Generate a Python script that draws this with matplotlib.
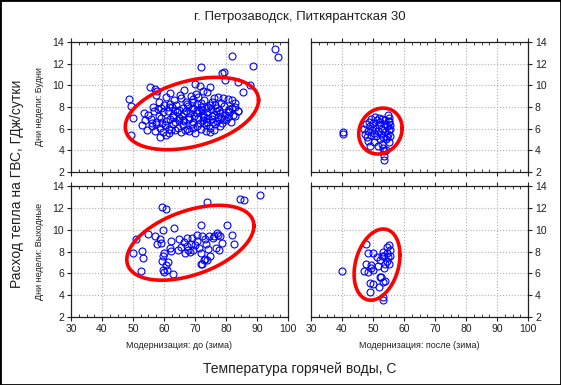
import numpy as np
import matplotlib
matplotlib.use("Agg")
import matplotlib.pyplot as plt
from matplotlib.patches import Rectangle

plt.rcParams['font.family'] = ['Liberation Sans', 'DejaVu Sans']
plt.rcParams['text.color'] = '#202020'
plt.rcParams['xtick.color'] = '#202020'
plt.rcParams['ytick.color'] = '#202020'

# --- data: (water temperature C, heat GJ/day) ---
before_weekday = [
    (95.8, 13.35), (96.9, 12.6), (81.8, 12.7), (71.8, 11.7), (88.6, 11.8),
    (78.8, 11.1), (79.4, 11.2), (79.7, 10.5), (84.0, 10.3), (85.4, 9.35), (87.7, 10.0),
    (55.5, 9.8), (57.1, 9.7), (57.9, 9.5), (71.5, 9.9), (72.5, 9.5), (70.2, 9.2),
    (65.1, 9.1), (68.8, 9.0), (74.0, 9.4),
    (48.7, 8.7), (60.5, 8.9), (63.2, 8.6), (65.5, 8.8), (67.0, 8.5), (69.5, 8.7),
    (71.0, 8.9), (73.0, 8.6), (75.5, 8.5), (77.5, 8.9), (79.0, 8.8), (80.5, 8.7),
    (82.0, 8.6), (58.5, 8.5), (61.8, 8.3), (76.5, 8.2), (78.5, 8.4),
    (49.4, 8.1), (56.5, 8.0), (59.0, 7.9), (62.5, 8.0), (64.0, 8.2), (66.0, 7.9),
    (67.8, 8.1), (69.0, 7.8), (70.5, 8.3), (72.0, 8.0), (73.5, 7.9), (74.8, 8.2),
    (77.0, 7.9), (79.5, 8.1), (81.0, 7.8), (83.0, 8.0), (60.0, 8.2), (65.0, 7.7),
    (53.5, 7.4), (55.0, 7.3), (56.8, 7.6), (58.3, 7.2), (59.8, 7.5), (61.2, 7.6),
    (62.8, 7.3), (64.2, 7.5), (65.8, 7.2), (67.2, 7.6), (68.5, 7.4), (69.8, 7.2),
    (71.2, 7.6), (72.6, 7.3), (74.0, 7.5), (75.4, 7.2), (76.8, 7.6), (78.2, 7.4),
    (79.6, 7.3), (81.0, 7.5), (82.4, 7.3), (83.8, 7.6), (63.5, 7.7), (70.5, 7.7), (77.5, 7.1),
    (50.1, 7.0), (54.0, 6.8), (55.8, 6.9), (57.5, 6.6), (59.0, 7.0), (60.5, 6.7),
    (62.0, 6.9), (63.5, 6.6), (65.0, 7.0), (66.5, 6.7), (68.0, 6.9), (69.5, 6.6),
    (71.0, 7.0), (72.5, 6.8), (74.0, 6.6), (75.5, 6.9), (77.0, 6.7), (78.5, 7.0),
    (80.0, 6.8), (81.5, 6.6), (66.0, 6.8), (73.0, 7.1),
    (52.8, 6.3), (54.6, 5.9), (56.0, 6.2), (57.3, 6.4), (58.8, 6.1), (60.2, 6.3),
    (61.6, 6.0), (63.0, 6.4), (64.5, 6.1), (66.0, 6.3), (67.5, 6.0), (69.0, 6.4),
    (70.5, 6.2), (72.0, 6.0), (73.5, 6.3), (75.0, 6.1), (76.5, 6.4), (78.0, 6.2),
    (59.5, 6.5), (71.5, 6.5),
    (49.2, 5.4), (58.7, 5.2), (61.6, 5.6), (57.0, 5.8), (59.8, 5.7), (63.5, 5.9),
    (65.5, 5.7), (68.0, 5.8), (70.0, 5.6), (73.5, 5.8), (74.8, 5.7), (60.5, 5.4),
    (66.5, 7.4), (68.0, 7.1), (69.3, 7.9), (70.8, 7.4), (72.2, 7.7), (73.8, 7.0),
    (75.2, 7.8), (76.2, 7.3), (77.8, 7.7), (79.2, 6.9), (80.6, 7.1), (82.0, 7.9),
    (67.5, 8.3), (69.0, 8.5), (71.8, 8.4), (74.2, 8.0), (75.8, 6.6), (78.8, 6.5),
    (64.8, 6.8), (63.0, 7.1), (61.5, 8.0), (58.0, 7.8), (56.2, 6.5), (62.2, 5.9),
    (66.8, 5.9), (69.2, 6.1), (72.8, 6.5), (76.0, 5.9), (80.5, 7.6), (83.0, 7.2),
    (84.0, 7.6), (82.8, 8.4), (57.5, 9.1), (62.0, 9.3), (66.5, 9.6), (74.8, 9.8),
    (76.0, 8.8), (70.0, 10.1),
]

after_weekday = [
    (40.3, 5.7), (40.3, 5.5),
    (47.2, 6.0), (47.5, 5.5), (47.8, 6.4), (48.0, 5.2), (48.3, 5.8), (48.5, 4.9),
    (48.8, 6.6), (49.0, 6.2), (49.3, 5.4), (49.5, 6.9), (49.8, 5.9), (50.0, 6.5),
    (50.3, 5.6), (50.5, 7.1), (50.8, 6.1), (51.0, 5.3), (51.3, 6.8), (51.5, 5.8),
    (51.8, 6.3), (52.0, 7.0), (52.2, 5.0), (52.4, 6.6), (52.6, 5.5), (52.8, 6.0),
    (53.0, 4.6), (53.0, 6.9), (53.2, 4.2), (53.3, 5.2), (53.5, 3.9), (53.5, 6.4),
    (53.6, 3.5), (53.7, 3.1), (53.8, 5.7), (54.0, 6.8), (54.2, 4.0), (54.3, 5.0),
    (54.5, 6.2), (54.7, 7.3), (54.8, 5.5), (55.0, 6.6), (55.1, 5.9), (55.2, 4.8),
    (55.3, 7.0), (55.4, 6.3), (55.5, 5.3), (55.6, 6.0), (55.2, 6.7), (54.6, 5.2),
    (51.6, 4.4), (50.2, 4.8), (49.0, 4.4),
]

before_weekend = [
    (90.9, 13.2), (84.5, 12.8), (85.7, 12.7), (74.0, 12.5), (59.5, 12.05), (60.8, 11.9),
    (80.4, 10.4), (71.9, 10.45), (63.3, 10.15), (81.8, 9.55), (82.5, 8.7), (78.8, 8.8),
    (59.8, 10.0), (54.9, 9.6), (50.9, 9.15), (57.1, 9.45), (58.7, 9.15), (58.9, 8.8),
    (49.9, 7.85), (52.8, 8.05), (53.1, 7.45), (57.6, 8.7), (52.6, 6.25),
    (59.2, 7.1), (59.8, 7.55), (60.1, 7.85), (60.0, 6.15), (61.0, 6.35), (60.8, 6.8),
    (63.0, 5.95), (61.9, 8.3), (62.4, 8.05), (64.6, 8.15), (64.8, 9.1), (66.5, 8.9),
    (67.3, 8.5), (66.7, 7.85), (67.8, 8.15), (68.9, 9.25), (68.7, 8.7), (69.4, 8.15),
    (70.5, 9.55), (70.0, 8.6), (70.7, 9.0), (72.1, 9.4), (71.4, 8.3), (71.9, 7.9),
    (73.2, 9.1), (73.7, 8.7), (72.9, 7.2), (71.8, 6.85), (74.6, 9.45), (74.3, 8.2),
    (74.8, 7.55), (73.9, 7.25), (75.9, 9.2), (76.1, 9.45), (77.0, 9.7), (77.5, 9.55),
    (78.0, 9.4), (76.7, 8.3), (77.8, 8.1), (72.4, 6.9), (73.2, 7.3), (68.3, 8.0),
    (65.6, 8.45), (67.3, 9.2), (62.4, 9.0), (59.6, 6.3), (61.2, 7.0),
]

after_weekend = [
    (40.1, 6.2), (47.9, 8.7), (48.5, 7.85), (49.9, 7.9), (47.7, 6.9), (49.3, 6.8),
    (47.1, 6.25), (48.5, 6.15), (49.3, 6.5), (49.9, 6.3), (49.0, 5.1), (49.9, 5.0),
    (49.0, 4.3), (51.4, 7.5), (52.2, 7.25), (52.8, 7.6), (52.2, 5.7), (52.6, 5.65),
    (52.0, 4.75), (53.1, 3.8), (53.1, 3.6), (53.3, 5.25), (53.6, 6.45), (53.8, 6.9),
    (53.3, 8.0), (53.5, 7.6), (54.6, 8.45), (54.6, 7.9), (54.9, 7.5), (54.6, 7.1),
    (55.2, 8.6), (55.5, 8.15), (55.5, 7.55), (55.0, 6.9), (54.0, 5.3), (51.5, 6.7),
]

# ellipses: centre, half-width (x), half-height (y), correlation
ellipse_cx = [69.0, 52.4, 68.5, 51.3]
ellipse_cy = [7.4, 5.78, 8.8, 6.8]
ellipse_ax = [21.5, 7.0, 20.5, 7.4]
ellipse_ay = [3.34, 2.12, 3.43, 3.26]
ellipse_rho = [0.37, 0.12, 0.45, 0.27]

panel_data = [before_weekday, after_weekday, before_weekend, after_weekend]
row_labels = ['Дни недели: Будни', 'Дни недели: Выходные']
col_labels = ['Модернизация: до (зима)', 'Модернизация: после (зима)']

fig = plt.figure(figsize=(5.61, 3.85), dpi=100)

W, H = 561.0, 385.0
lefts = [71, 311]
rows = [(42, 172), (186, 317)]
t = np.linspace(0, 2 * np.pi, 300)

for i in range(4):
    r, c = divmod(i, 2)
    top, bot = rows[r]
    ax = fig.add_axes([lefts[c] / W, 1 - bot / H, 217 / W, (bot - top) / H])
    pts = np.array(panel_data[i])
    ax.plot(pts[:, 0], pts[:, 1], 'o', ms=5, mfc='none', mec='#0000ff', mew=0.8, zorder=3)
    rho = ellipse_rho[i]
    ex = ellipse_cx[i] + ellipse_ax[i] * np.cos(t)
    ey = ellipse_cy[i] + ellipse_ay[i] * (rho * np.cos(t) + np.sqrt(1 - rho ** 2) * np.sin(t))
    ax.plot(ex, ey, color='#ff0000', lw=2.6, zorder=4)

    ax.set_xlim(30, 100)
    ax.set_ylim(2, 14)
    ax.set_xticks(range(30, 101, 10))
    ax.set_yticks(range(2, 15, 2))
    ax.set_xticks(np.arange(30, 100.1, 2.5), minor=True)
    ax.grid(True, which='major', color='#b0b0b0', ls=':', lw=0.8)
    ax.tick_params(which='major', length=3, width=0.8, labelsize=7.5, pad=2,
                   top=True, direction='out')
    ax.tick_params(which='minor', length=2, width=0.6, top=True, direction='in')
    for s in ax.spines.values():
        s.set_linewidth(0.9)
        s.set_color('#202020')
    if r == 0:
        ax.tick_params(labelbottom=False)
    if c == 1:
        ax.yaxis.tick_right()
        ax.tick_params(axis='y', left=False, right=True)

for r, lab in enumerate(row_labels):
    top, bot = rows[r]
    fig.text(40 / W, 1 - (top + bot) / 2 / H, lab, rotation=90, fontsize=6.5,
             ha='center', va='center')
for c, lab in enumerate(col_labels):
    fig.text((lefts[c] + 108.5) / W, 1 - 345 / H, lab, fontsize=6.5,
             ha='center', va='center')

fig.text(300 / W, 1 - 17 / H, 'г. Петрозаводск, Питкярантская 30', fontsize=9.5,
         ha='center', va='center')
fig.text(300 / W, 1 - 369 / H, 'Температура горячей воды, С', fontsize=10,
         ha='center', va='center')
fig.text(17 / W, 1 - 184 / H, 'Расход тепла на ГВС, ГДж/сутки', fontsize=10,
         rotation=90, ha='center', va='center')

fig.patches.append(Rectangle((0, 0), 1, 1, transform=fig.transFigure, fill=False,
                             lw=2, ec='black'))

fig.savefig('out.png', dpi=100)
